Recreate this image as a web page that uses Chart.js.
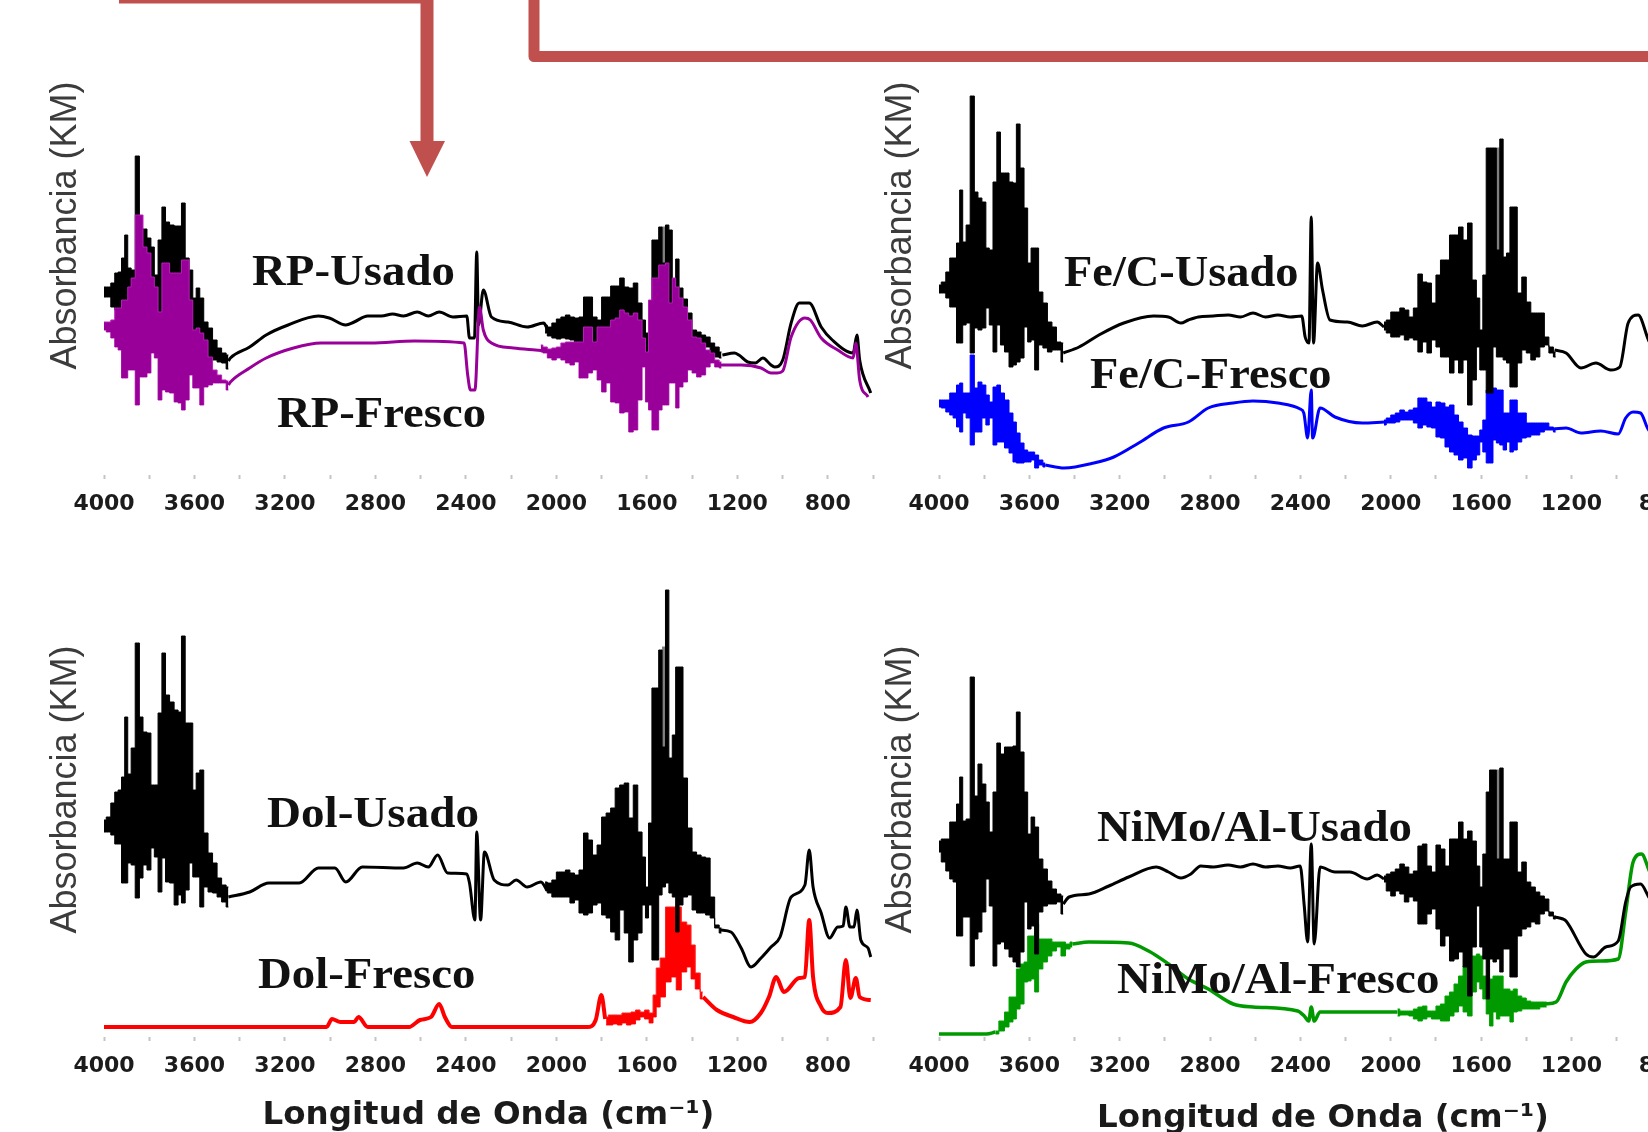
<!DOCTYPE html>
<html><head><meta charset="utf-8">
<script src="https://cdn.jsdelivr.net/npm/chart.js@4/dist/chart.umd.min.js"></script>
<style>
html,body{margin:0;padding:0;background:#fff;width:1648px;height:1132px;overflow:hidden}
#stage{position:absolute;left:0;top:0;width:1648px;height:1132px;overflow:hidden;filter:blur(0.7px)}
#stage canvas{position:absolute}
.lbl{position:absolute;white-space:nowrap;font:bold 44px/44px "Liberation Serif",serif;color:#111;transform-origin:left center}
svg{position:absolute;left:0;top:0}
</style></head><body>
<div id="stage">
<svg width="1648" height="1132" viewBox="0 0 1648 1132" fill="#C0504D">
<path d="M119 -3H427V141" fill="none" stroke="#C0504D" stroke-width="13" stroke-linejoin="round"/>
<path d="M409.5 141H445L427 177Z"/>
<path d="M534 -8V56.5H1660" fill="none" stroke="#C0504D" stroke-width="11" stroke-linejoin="round"/>
</svg>
</div>
<script>
// wavenumber tick labels and texts
const tickLabels = [4000,3600,3200,2800,2400,2000,1600,1200,800];
const yTitle = "Absorbancia (KM)";
const xTitle = "Longitud de Onda (cm\u207B\u00B9)";

// Each band row: [wavenumber, upper envelope, lower envelope]; each line row: [wavenumber, absorbance]
const rpUsadoBandA = [[4000,188,178],[3980,188,178],[3960,192,168],[3945,202,165],[3930,203,165],[3915,217,162],[3902,240,162],[3888,207,162],[3872,205,162],[3852,319,160],[3835,228,160],[3820,246,160],[3800,237,160],[3785,228,160],[3770,200,160],[3752,235,160],[3736,268,160],[3720,253,160],[3700,250,160],[3680,249,160],[3665,249,160],[3650,272,160],[3632,217,150],[3615,205,140],[3600,177,130],[3585,187,130],[3568,177,120],[3550,153,120],[3530,147,118],[3510,135,115],[3490,127,113],[3470,122,112],[3450,120,106]];
const rpUsadoBandB = [[2050,150,142],[2030,148,139],[2010,152,137],[1990,156,136],[1970,158,137],[1950,160,136],[1930,158,135],[1910,157,132],[1890,158,130],[1870,178,130],[1850,178,130],[1830,158,130],[1810,155,130],[1790,178,130],[1770,178,130],[1750,189,130],[1730,189,130],[1710,197,130],[1690,188,130],[1670,187,130],[1650,192,130],[1630,172,130],[1612,155,130],[1600,142,120],[1585,172,120],[1570,235,130],[1555,235,130],[1540,248,130],[1525,212,130],[1510,250,130],[1495,245,130],[1480,195,130],[1465,216,130],[1450,187,130],[1430,176,130],[1410,162,130],[1390,145,130],[1370,143,130],[1350,140,132],[1330,138,128],[1310,132,122],[1290,128,118],[1270,123,117]];
const rpUsadoGrey = [[1533,248,212],[1517,248,212]];
const rpUsadoLine = [[3450,114],[3441,117],[3356,128],[3283,140],[3186,150],[3052,159],[3004,157],[2931,150],[2894,153],[2834,159],[2773,159],[2724,161],[2676,159],[2615,163],[2566,159],[2518,163],[2457,158],[2396,159],[2384,137],[2362,137],[2352,223],[2344,150],[2323,185],[2287,158],[2214,153],[2129,148],[2056,152],[2040,146],[1700,null],[1266,120],[1213,122],[1193,120],[1154,113],[1120,112],[1087,117],[1051,110],[1035,108],[999,115],[962,152],[926,172],[882,172],[829,148],[780,135],[688,122],[671,140],[659,115],[610,82]];

const rpFrescoBandA = [[4000,153,145],[3980,153,143],[3960,155,137],[3945,167,128],[3930,167,125],[3915,175,97],[3902,175,97],[3888,188,105],[3872,197,105],[3852,260,70],[3835,260,98],[3820,228,98],[3800,222,102],[3785,198,122],[3770,188,117],[3752,163,75],[3736,212,85],[3720,212,83],[3700,202,82],[3680,202,73],[3665,202,72],[3650,215,65],[3632,215,75],[3615,175,100],[3600,145,87],[3585,147,87],[3568,142,70],[3550,135,88],[3530,118,90],[3510,105,92],[3490,100,92],[3470,95,92],[3450,94,85]];
const rpFrescoBandB = [[2069,130,123],[2050,128,122],[2030,126,117],[2010,127,115],[1990,128,117],[1970,132,115],[1950,133,112],[1930,133,110],[1910,133,113],[1890,133,97],[1870,148,97],[1850,148,102],[1830,133,105],[1810,148,95],[1790,148,83],[1770,148,92],[1750,155,73],[1730,157,72],[1710,165,62],[1690,162,63],[1670,159,43],[1650,162,45],[1630,155,75],[1612,137,108],[1600,123,73],[1585,175,65],[1570,197,45],[1555,197,45],[1540,210,65],[1525,210,70],[1510,212,70],[1495,172,92],[1480,197,92],[1465,188,67],[1450,177,88],[1430,168,93],[1410,155,105],[1390,138,102],[1370,137,98],[1350,132,100],[1330,125,108],[1310,122,112],[1290,115,108],[1270,113,107]];
const rpFrescoLine = [[3450,90],[3441,93],[3356,107],[3283,117],[3162,127],[3040,132],[2821,132],[2627,134],[2408,132],[2392,100],[2380,85],[2360,85],[2340,168],[2323,145],[2287,132],[2190,127],[2092,125],[2040,124],[1700,null],[1275,110],[1183,110],[1095,107],[1051,102],[1023,102],[999,104],[962,138],[901,157],[877,155],[829,137],[756,125],[688,117],[676,132],[659,95],[622,78]];

const feUsadoBandA = [[4000,190,182],[3980,193,182],[3960,203,177],[3945,217,168],[3930,217,168],[3915,232,132],[3902,285,132],[3888,233,150],[3872,250,152],[3852,379,122],[3835,283,147],[3820,277,145],[3800,273,147],[3785,227,167],[3770,225,150],[3752,293,123],[3736,343,150],[3720,302,130],[3700,302,123],[3680,293,108],[3665,292,110],[3650,351,113],[3632,307,117],[3615,267,148],[3600,212,133],[3585,227,135],[3568,227,105],[3550,183,130],[3530,172,127],[3510,153,123],[3490,148,125],[3470,133,125],[3450,132,113]];
const feUsadoBandB = [[2030,153,145],[2010,155,142],[1990,163,138],[1970,163,138],[1950,167,140],[1930,165,135],[1910,158,137],[1890,167,135],[1870,201,123],[1850,193,133],[1830,192,122],[1810,172,135],[1790,200,128],[1770,215,118],[1750,215,118],[1730,240,102],[1710,240,115],[1690,248,102],[1670,235,115],[1650,252,70],[1630,195,95],[1612,177,128],[1600,145,105],[1585,200,105],[1570,327,82],[1555,327,82],[1540,327,128],[1525,225,118],[1510,336,118],[1495,218,115],[1480,222,112],[1465,268,88],[1450,268,88],[1430,182,112],[1410,198,125],[1390,173,122],[1370,162,115],[1350,162,118],[1330,162,128],[1310,138,130],[1290,128,122],[1270,123,118]];
const feUsadoGrey = [[1533,327,225],[1517,327,225]];
const feUsadoLine = [[3450,122],[3380,128],[3292,140],[3182,152],[3050,159],[2984,158],[2929,152],[2896,155],[2852,158],[2786,159],[2720,160],[2665,158],[2610,162],[2555,158],[2500,160],[2445,158],[2394,159],[2379,138],[2362,132],[2352,258],[2342,132],[2324,212],[2302,185],[2269,155],[2192,153],[2126,149],[2060,153],[2030,148],[1700,null],[1275,125],[1224,122],[1158,107],[1092,112],[1026,105],[986,108],[949,152],[905,160],[855,133],[800,120],[700,105],[600,80]];

const feFrescoBandA = [[4000,75,68],[3980,75,67],[3960,75,63],[3945,82,60],[3930,82,57],[3915,90,48],[3902,92,43],[3888,82,62],[3872,82,57],[3852,120,30],[3835,87,43],[3820,93,43],[3800,90,57],[3785,80,50],[3770,73,57],[3752,88,30],[3736,90,33],[3720,82,33],[3700,75,27],[3680,62,22],[3665,53,13],[3650,42,12],[3632,32,12],[3615,25,13],[3600,23,13],[3585,23,15],[3568,20,7],[3550,15,10],[3530,12,8]];
const feFrescoBandB = [[2030,55,50],[2010,57,52],[1990,60,52],[1970,62,53],[1950,65,55],[1930,63,55],[1910,65,55],[1890,67,52],[1870,77,47],[1850,77,50],[1830,73,48],[1810,68,47],[1790,73,38],[1770,72,37],[1750,68,28],[1730,70,23],[1710,60,20],[1690,53,15],[1670,47,17],[1650,40,7],[1630,39,15],[1612,39,20],[1600,45,33],[1585,55,23],[1570,85,12],[1555,87,12],[1540,87,35],[1525,85,32],[1510,85,30],[1495,62,25],[1480,62,33],[1465,75,23],[1450,75,25],[1430,62,33],[1410,62,37],[1390,52,38],[1370,52,40],[1350,52,40],[1330,52,43],[1310,52,45],[1290,48,45],[1270,47,43]];
const feFrescoLine = [[3530,10],[3446,7],[3314,12],[3226,18],[3116,32],[3006,47],[2896,53],[2808,67],[2698,72],[2610,74],[2500,72],[2401,66],[2385,62],[2368,37],[2352,85],[2346,37],[2313,67],[2247,58],[2126,52],[2030,53],[1700,null],[1275,46],[1224,47],[1158,42],[1070,44],[993,41],[960,57],[927,63],[894,62],[855,44],[800,42],[700,38],[600,30]];

const dolUsadoBandA = [[4000,217,205],[3980,220,205],[3960,234,202],[3945,245,193],[3930,247,193],[3915,260,154],[3902,320,154],[3888,263,174],[3872,289,172],[3852,394,139],[3835,320,159],[3820,305,172],[3800,304,167],[3785,252,189],[3770,252,180],[3752,324,145],[3736,384,179],[3720,342,155],[3700,335,154],[3680,327,132],[3665,325,142],[3650,401,134],[3632,314,147],[3615,314,174],[3600,247,160],[3585,264,160],[3568,267,130],[3550,204,150],[3530,184,145],[3510,174,144],[3490,159,140],[3470,152,135],[3450,150,130]];
const dolUsadoBandB = [[2050,155,147],[2030,154,144],[2010,157,140],[1990,165,140],[1970,165,140],[1950,167,140],[1930,164,134],[1910,162,137],[1890,167,124],[1870,204,122],[1850,197,124],[1830,182,132],[1810,192,134],[1790,220,122],[1770,224,119],[1750,229,105],[1730,249,97],[1710,252,127],[1690,254,104],[1670,219,75],[1650,252,97],[1630,205,104],[1612,180,132],[1600,150,119],[1585,214,132],[1570,349,77],[1555,349,77],[1540,387,142],[1525,290,150],[1510,447,154],[1495,279,144],[1480,302,140],[1465,370,105],[1450,370,132],[1430,259,140],[1410,209,142],[1390,185,127],[1370,182,124],[1350,180,124],[1330,179,122],[1310,140,119],[1290,112,109],[1270,109,104]];
const dolUsadoGrey = [[1533,390,290],[1517,390,290]];
const dolUsadoLine = [[3450,140],[3356,145],[3271,154],[3137,154],[3052,169],[2979,169],[2931,155],[2858,170],[2676,169],[2615,174],[2566,170],[2525,182],[2481,164],[2396,163],[2384,154],[2360,117],[2352,205],[2335,117],[2318,185],[2275,157],[2214,152],[2178,157],[2129,150],[2068,155],[2040,146],[1700,null],[1275,107],[1228,105],[1183,89],[1139,70],[1095,79],[1051,90],[1011,100],[962,140],[901,152],[882,187],[865,150],[829,124],[792,99],[756,110],[732,111],[720,130],[702,110],[684,110],[671,127],[654,97],[622,89],[610,80]];

const dolFrescoBandB = [[1780,20,12],[1760,22,12],[1740,22,13],[1720,22,12],[1700,24,14],[1680,24,12],[1660,25,13],[1640,27,17],[1620,25,20],[1600,27,18],[1580,24,14],[1565,42,20],[1552,69,30],[1530,79,40],[1505,130,55],[1480,130,60],[1460,130,47],[1435,115,65],[1412,112,70],[1397,92,58],[1375,64,48],[1353,45,38]];
const dolFrescoLine = [[4000,10],[3016,10],[2992,18],[2955,15],[2894,15],[2875,20],[2834,10],[2651,10],[2603,17],[2554,20],[2518,33],[2493,20],[2462,10],[1862,10],[1826,17],[1801,42],[1784,18],[1570,null],[1351,40],[1290,27],[1218,20],[1145,15],[1096,24],[1060,40],[1028,60],[994,45],[926,59],[901,60],[882,117],[865,60],[829,30],[800,24],[744,30],[720,77],[700,39],[676,59],[659,40],[610,37]];

const niUsadoBandA = [[4000,196,185],[3980,198,175],[3960,198,166],[3945,215,158],[3930,215,155],[3915,233,101],[3902,260,101],[3888,216,120],[3872,218,120],[3852,360,71],[3835,241,98],[3820,273,105],[3800,253,125],[3785,235,158],[3770,205,131],[3752,245,71],[3736,294,93],[3720,283,95],[3700,290,88],[3680,290,80],[3665,291,75],[3650,325,70],[3632,285,85],[3615,245,135],[3600,203,108],[3585,220,111],[3568,210,83],[3550,178,125],[3530,168,131],[3510,156,133],[3490,148,133],[3470,143,135],[3450,141,123]];
const niUsadoBandB = [[2030,161,155],[2010,163,146],[1990,165,141],[1970,168,146],[1950,173,143],[1930,170,135],[1910,163,140],[1890,166,136],[1870,191,113],[1850,193,113],[1830,171,123],[1810,165,128],[1790,192,108],[1770,188,91],[1750,171,101],[1730,198,76],[1710,198,78],[1690,215,85],[1670,198,70],[1650,206,41],[1630,196,90],[1612,171,131],[1600,150,90],[1585,183,78],[1570,245,38],[1555,267,78],[1540,267,75],[1525,178,78],[1510,269,65],[1495,178,88],[1480,178,88],[1465,215,60],[1450,215,60],[1430,165,101],[1410,175,108],[1390,155,110],[1370,150,115],[1350,145,113],[1330,141,123],[1310,138,126],[1290,125,121],[1270,121,118]];
const niUsadoGrey = [[1533,267,178],[1517,267,178]];
const niUsadoLine = [[3450,133],[3424,140],[3336,143],[3248,151],[3160,160],[3039,170],[2984,165],[2929,159],[2885,163],[2841,171],[2786,170],[2720,172],[2665,170],[2610,173],[2555,170],[2500,171],[2445,169],[2401,171],[2383,131],[2368,95],[2352,193],[2339,93],[2313,170],[2247,165],[2181,165],[2104,158],[2060,162],[2030,158],[1700,null],[1275,120],[1238,118],[1224,116],[1136,83],[1103,80],[1048,90],[993,96],[960,135],[938,150],[894,153],[855,139],[800,125],[700,105],[600,85]];

const niFrescoBandA = [[3750,6,3],[3720,16,6],[3700,25,10],[3680,40,15],[3665,40,18],[3650,68,28],[3632,73,33],[3615,75,55],[3600,101,56],[3585,101,58],[3568,113,45],[3550,98,68],[3530,98,75],[3510,98,81],[3490,95,86],[3470,95,90],[3450,95,81],[3430,93,88],[3410,95,90]];
const niFrescoBandB = [[1970,28,21],[1950,26,22],[1930,26,22],[1910,26,21],[1890,28,18],[1870,30,16],[1850,31,18],[1830,26,20],[1810,26,18],[1790,31,18],[1770,33,16],[1750,41,16],[1730,45,21],[1710,53,25],[1690,61,31],[1670,71,25],[1650,71,21],[1630,81,45],[1612,83,55],[1600,81,48],[1585,61,38],[1570,60,23],[1555,58,11],[1540,61,25],[1525,61,18],[1510,61,21],[1495,48,21],[1480,48,21],[1465,46,15],[1450,48,25],[1430,41,26],[1410,39,28],[1390,36,28],[1370,35,28],[1350,35,28],[1330,35,30],[1310,35,30]];
const niFrescoLine = [[4000,3],[3900,3],[3790,3],[3750,5],[3700,null],[3410,93],[3336,95],[3160,94],[3072,86],[2984,73],[2896,58],[2808,48],[2698,33],[2610,30],[2412,26],[2383,21],[2363,16],[2352,30],[2339,16],[2313,25],[1994,25],[1970,25],[1700,null],[1315,33],[1268,35],[1224,55],[1180,68],[1136,75],[1070,76],[993,78],[960,125],[927,175],[890,183],[855,166],[800,140],[700,110],[600,90]];

// series label texts: [text, left, right, centre y]
const seriesLabels = [
 ["RP-Usado",252,455,270],["RP-Fresco",277,486,412],
 ["Fe/C-Usado",1063.5,1298,271],["Fe/C-Fresco",1090,1331.5,373],
 ["Dol-Usado",267,479,812],["Dol-Fresco",257.6,475,973],
 ["NiMo/Al-Usado",1097,1412,826],["NiMo/Al-Fresco",1116.6,1439,978]
];

const AXIS_W = 90, EXTRA_W = 13;
function hiOf(r){return r.slice().sort((a,b)=>a[0]-b[0]).map(p=>({x:p[0],y:p[1]}));}
function loOf(r){return r.slice().sort((a,b)=>a[0]-b[0]).map(p=>({x:p[0],y:p[2]}));}
function bandSets(name,color,edge,b,order){
  return [
    {label:name+" max",data:hiOf(b),stepped:'middle',fill:'+1',backgroundColor:color,borderColor:edge,borderWidth:1,pointRadius:0,order:order},
    {label:name+" min",data:loOf(b),stepped:'middle',fill:false,borderColor:edge,borderWidth:1,pointRadius:0,order:order}
  ];
}
function traceSets(name,color,edge,bands,line,lw,order){
  let out=[];
  bands.forEach(b=>{out=out.concat(bandSets(name,color,edge,b,order));});
  out.push({label:name,data:hiOf(line),fill:false,borderColor:color,borderWidth:lw,pointRadius:0,cubicInterpolationMode:'monotone',order:order});
  return out;
}
function panel(left,top,w,h,yMax,xH,datasets,withX,titlePad,yPad){
  const c=document.createElement('canvas');
  c.width=w;c.height=h;c.style.left=left+'px';c.style.top=top+'px';c.style.width=w+'px';c.style.height=h+'px';
  document.getElementById('stage').appendChild(c);
  new Chart(c.getContext('2d'),{type:'line',data:{datasets:datasets},options:{
    responsive:false,animation:false,events:[],spanGaps:false,
    layout:{padding:0},
    plugins:{legend:{display:false},tooltip:{enabled:false},title:{display:false}},
    scales:{
      x:{type:'linear',reverse:true,min:600,max:4000,
        afterFit:s=>{s.height=xH;},
        border:{display:false},
        grid:{display:true,drawOnChartArea:false,drawTicks:true,tickLength:4,tickColor:'#c4c4c4',tickWidth:2},
        ticks:{stepSize:200,autoSkip:false,maxRotation:0,minRotation:0,padding:12,color:'#1c1c1c',
          font:{family:'"DejaVu Sans"',weight:'bold',size:22},
          callback:v=>tickLabels.includes(v)?String(v):''},
        title:{display:withX,text:xTitle,color:'#1a1a1a',font:{family:'"DejaVu Sans"',weight:'bold',size:32.5},padding:{top:10,bottom:titlePad}}
      },
      y:{type:'linear',min:0,max:yMax,
        afterFit:s=>{s.width=AXIS_W;},
        border:{display:false},grid:{display:false},ticks:{display:false},
        title:{display:true,text:yTitle,color:'#3c3c3c',font:{family:'"Liberation Sans"',size:36},padding:{top:yPad,bottom:0}}
      }
    }
  }});
}

// top left: axis at y=475, coloured trace over black
panel(14,-24,AXIS_W+768+EXTRA_W,499+44,499,44,
  traceSets("RP-Fresco","#990099","#B81FB8",[rpFrescoBandA,rpFrescoBandB],rpFrescoLine,3,1)
  .concat(traceSets("RP-Usado","#000","#000",[rpUsadoBandA,rpUsadoBandB],rpUsadoLine,3,3))
  .concat(bandSets("RP-Usado gris","#808080","#808080",rpUsadoGrey,4)),false,0,30);
// top right
panel(848.5,-24,AXIS_W+767+EXTRA_W,499+44,499,44,
  traceSets("Fe/C-Fresco","#0000FF","#0000FF",[feFrescoBandA,feFrescoBandB],feFrescoLine,3,5)
  .concat(traceSets("Fe/C-Usado","#000","#000",[feUsadoBandA,feUsadoBandB],feUsadoLine,3,1))
  .concat(bandSets("Fe/C-Usado gris","#808080","#808080",feUsadoGrey,2)),false,0,30.9);
// bottom left
panel(14,542,AXIS_W+768+EXTRA_W,495+110,495,110,
  traceSets("Dol-Fresco","#FF0000","#FF2020",[dolFrescoBandB],dolFrescoLine,4,5)
  .concat(traceSets("Dol-Usado","#000","#000",[dolUsadoBandA,dolUsadoBandB],dolUsadoLine,3,1))
  .concat(bandSets("Dol-Usado gris","#808080","#808080",dolUsadoGrey,2)),true,12.4,30);
// bottom right
panel(848.5,542,AXIS_W+767+EXTRA_W,495+110,495,110,
  traceSets("NiMo/Al-Fresco","#009900","#00A800",[niFrescoBandA,niFrescoBandB],niFrescoLine,3.5,5)
  .concat(traceSets("NiMo/Al-Usado","#000","#000",[niUsadoBandA,niUsadoBandB],niUsadoLine,3,1))
  .concat(bandSets("NiMo/Al-Usado gris","#808080","#808080",niUsadoGrey,2)),true,9.4,30.9);

seriesLabels.forEach(l=>{
  const d=document.createElement('div');d.className='lbl';d.textContent=l[0];
  d.style.left=l[1]+'px';d.style.top=(l[3]-21)+'px';
  document.getElementById('stage').appendChild(d);
  const nat=d.getBoundingClientRect().width;
  d.style.transform='scaleX('+((l[2]-l[1])/nat)+')';
});
</script>
</body></html>
